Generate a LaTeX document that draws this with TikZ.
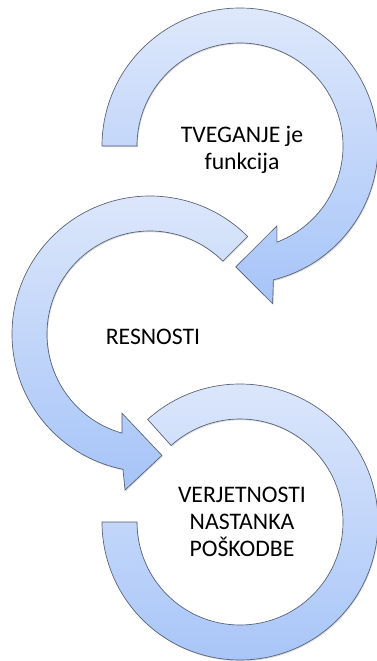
\documentclass[tikz,border=0pt]{standalone}
\usepackage{fontspec}
\setmainfont{Carlito}
\usetikzlibrary{calc, shadows}

\definecolor{ringtop}{RGB}{222,232,251}
\definecolor{ringbot}{RGB}{166,196,248}
\definecolor{ringline}{RGB}{85,95,115}

\tikzset{
  ring/.style={draw=ringline, line width=0.5pt, top color=ringtop, bottom color=ringbot,
    drop shadow={opacity=0.3, shadow xshift=0.6pt, shadow yshift=-0.9pt}},
  txt/.style={align=center, inner sep=0pt}
}

\begin{document}
\begin{tikzpicture}[x=0.75pt, y=0.75pt, font=\fontsize{17.8}{20.3}\selectfont]
\useasboundingbox (0,0) rectangle (377,661);

\coordinate (c1) at (240,515);
\coordinate (c2) at (150,327);
\coordinate (c3) at (240,139);

% spodnji krog, brez puscice
\path[ring] ([shift={(132:138)}]c3) arc[start angle=132, end angle=-180, radius=138]
  -- ([shift={(180:103)}]c3) arc[start angle=-180, end angle=132, radius=103] -- cycle;

% srednji krog
\path[ring] ([shift={(45:138)}]c2) arc[start angle=45, end angle=258.7, radius=138]
  -- ([shift={(260.9:158)}]c2) -- ([shift={(275.6:122)}]c2) -- ([shift={(250.5:84)}]c2)
  -- ([shift={(254.2:103)}]c2) arc[start angle=254.2, end angle=45, radius=103] -- cycle;

% zgornji krog
\path[ring] ([shift={(180:138)}]c1) arc[start angle=180, end angle=-76, radius=138]
  -- ([shift={(-78.3:161)}]c1) -- ([shift={(-92:121)}]c1) -- ([shift={(-65.2:88)}]c1)
  -- ([shift={(-69:103)}]c1) arc[start angle=-69, end angle=180, radius=103] -- cycle;

\node[txt] (risk) at (242,511) {TVEGANJE je\\funkcija};
\node[txt] (severity) at (153,324) {RESNOSTI};
\node[txt] (probability) at (242,139) {VERJETNOSTI\\NASTANKA\\POŠKODBE};
\end{tikzpicture}
\end{document}
